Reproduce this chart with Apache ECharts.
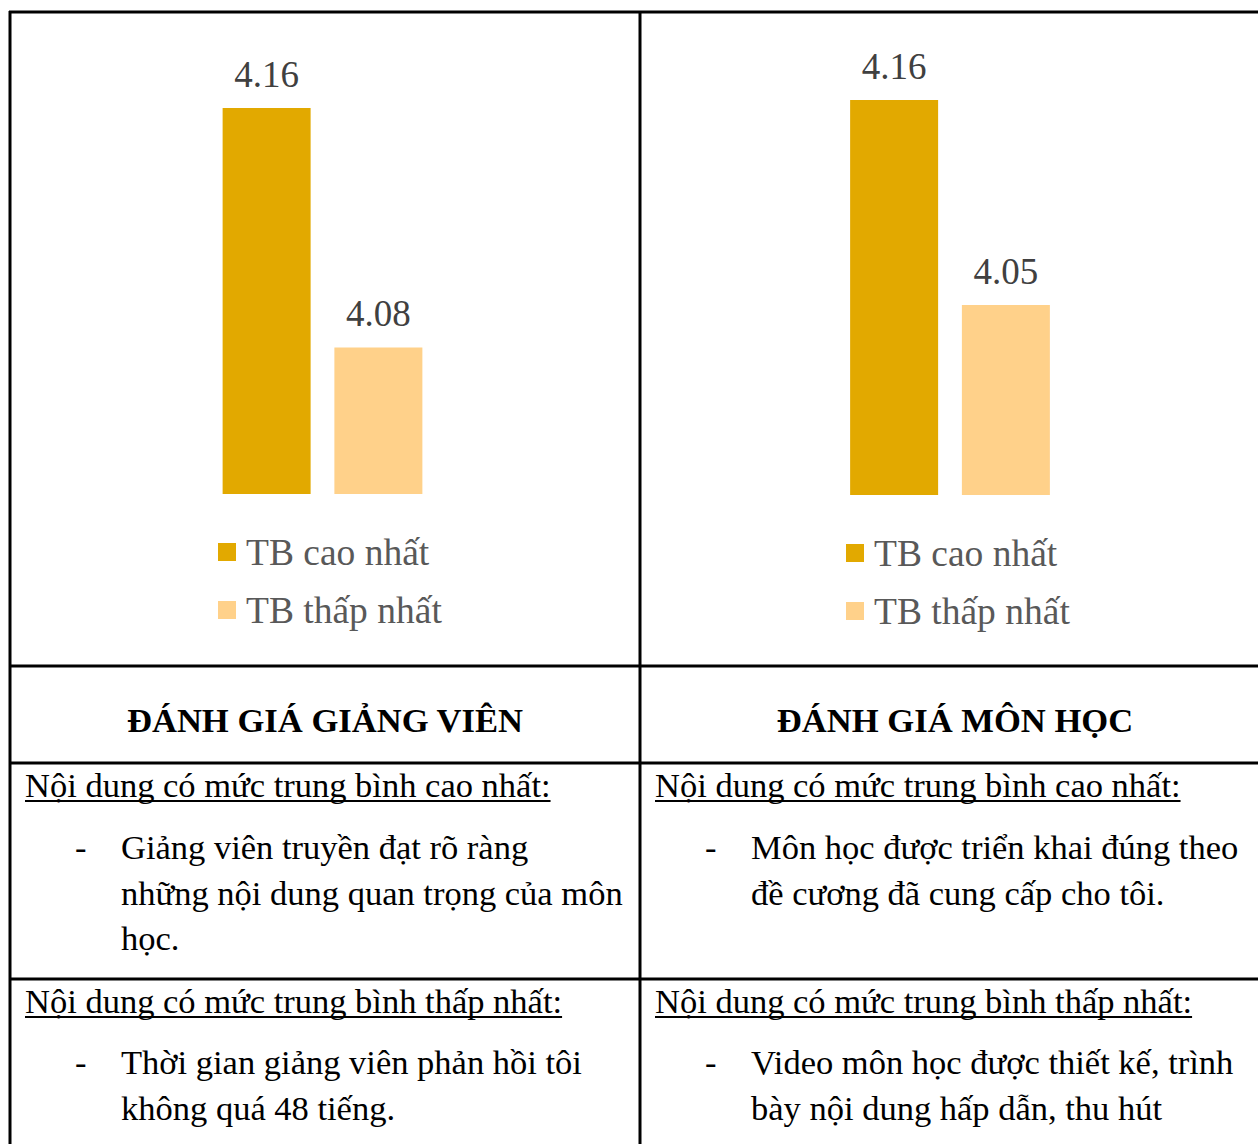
<!DOCTYPE html>
<html>
<head>
<meta charset="utf-8">
<style>
html,body{margin:0;padding:0;background:#fff;}
#chart{width:1258px;height:1144px;}
</style>
<script src="https://cdn.jsdelivr.net/npm/echarts@6/dist/echarts.min.js"></script>
</head>
<body>
<div id="chart"></div>
<script>
// ---- data ----
const seriesNames = ['TB cao nhất', 'TB thấp nhất'];
const giangVienValues = [4.16, 4.08];
const monHocValues = [4.16, 4.05];
const panelTitles = ['ĐÁNH GIÁ GIẢNG VIÊN', 'ĐÁNH GIÁ MÔN HỌC'];
const headHigh = 'Nội dung có mức trung bình cao nhất:';
const headLow = 'Nội dung có mức trung bình thấp nhất:';
const gvHighLines = ['Giảng viên truyền đạt rõ ràng', 'những nội dung quan trọng của môn', 'học.'];
const gvLowLines = ['Thời gian giảng viên phản hồi tôi', 'không quá 48 tiếng.'];
const mhHighLines = ['Môn học được triển khai đúng theo', 'đề cương đã cung cấp cho tôi.'];
const mhLowLines = ['Video môn học được thiết kế, trình', 'bày nội dung hấp dẫn, thu hút'];

const colors = ['#E2A900', '#FFD18A'];
const serif = 'Liberation Serif';
const bodySize = 34.5;

const chart = echarts.init(document.getElementById('chart'), null, {renderer: 'svg'});

const mctx = document.createElement('canvas').getContext('2d');
function textW(t, size, weight) {
  mctx.font = (weight || 'normal') + ' ' + size + 'px "Liberation Serif"';
  return mctx.measureText(t).width;
}

const graphics = [];
function hline(y, x1, x2) {
  graphics.push({type: 'line', shape: {x1: x1, y1: y, x2: x2, y2: y}, style: {stroke: '#000', lineWidth: 3}, z: 10});
}
function vline(x, y1, y2) {
  graphics.push({type: 'line', shape: {x1: x, y1: y1, x2: x, y2: y2}, style: {stroke: '#000', lineWidth: 3}, z: 10});
}
function txt(t, x, y, opts) {
  opts = opts || {};
  graphics.push({
    type: 'text', x: x, y: y, z: 10,
    style: {
      text: t,
      fontFamily: serif,
      fontSize: opts.size || bodySize,
      fontWeight: opts.weight || 'normal',
      fill: '#000',
      textAlign: opts.align || 'left',
      textVerticalAlign: 'middle'
    }
  });
}
function underlined(t, x, y) {
  txt(t, x, y);
  const w = textW(t, bodySize);
  graphics.push({type: 'line', shape: {x1: x, y1: y + 16, x2: x + w, y2: y + 16}, style: {stroke: '#000', lineWidth: 2}, z: 10});
}
function bullet(lines, xDash, xText, y0) {
  txt('-', xDash, y0);
  lines.forEach(function (l, i) { txt(l, xText, y0 + i * 45.5); });
}

// table lines
hline(12, 9, 1258);
hline(666, 9, 1258);
hline(763, 9, 1258);
hline(979, 9, 1258);
vline(10, 11, 1144);
vline(640, 11, 1144);

// headers
txt(panelTitles[0], 325, 720, {weight: 'bold', align: 'center', size: 34.6});
txt(panelTitles[1], 955, 720, {weight: 'bold', align: 'center', size: 34.6});

// left column
underlined(headHigh, 25, 785);
bullet(gvHighLines, 75, 121, 847);
underlined(headLow, 25, 1001);
bullet(gvLowLines, 75, 121, 1062);
// right column
underlined(headHigh, 655, 785);
bullet(mhHighLines, 705, 751, 847);
underlined(headLow, 655, 1001);
bullet(mhLowLines, 705, 751, 1062);

const labelStyle = {
  show: true, position: 'top', distance: 15,
  fontFamily: serif, fontSize: 37, color: '#404040', formatter: '{c}'
};

function makeSeries(values, idx) {
  return values.map(function (v, i) {
    return {
      name: seriesNames[i], type: 'bar',
      xAxisIndex: idx, yAxisIndex: idx,
      data: [v], barWidth: 88, barGap: '27%',
      itemStyle: {color: colors[i]},
      label: labelStyle,
      emphasis: {disabled: true}
    };
  });
}

function legend(left, top) {
  return {
    data: seriesNames, left: left, top: top, orient: 'vertical',
    icon: 'rect', itemWidth: 18, itemHeight: 18, itemGap: 18,
    selectedMode: false,
    textStyle: {fontFamily: serif, fontSize: 37.5, color: '#595959', lineHeight: 40, padding: [0, 0, 0, 5]}
  };
}

chart.setOption({
  animation: false,
  grid: [
    {left: 172, width: 301, top: 108, height: 386},
    {left: 800, width: 300, top: 100, height: 395}
  ],
  xAxis: [
    {type: 'category', gridIndex: 0, data: [''], show: false},
    {type: 'category', gridIndex: 1, data: [''], show: false}
  ],
  yAxis: [
    {type: 'value', gridIndex: 0, min: 4.031, max: 4.16, show: false, splitLine: {show: false}},
    {type: 'value', gridIndex: 1, min: 3.948, max: 4.16, show: false, splitLine: {show: false}}
  ],
  legend: [legend(213, 527), legend(841, 528)],
  series: makeSeries(giangVienValues, 0).concat(makeSeries(monHocValues, 1)),
  graphic: {elements: graphics}
});
</script>
</body>
</html>
